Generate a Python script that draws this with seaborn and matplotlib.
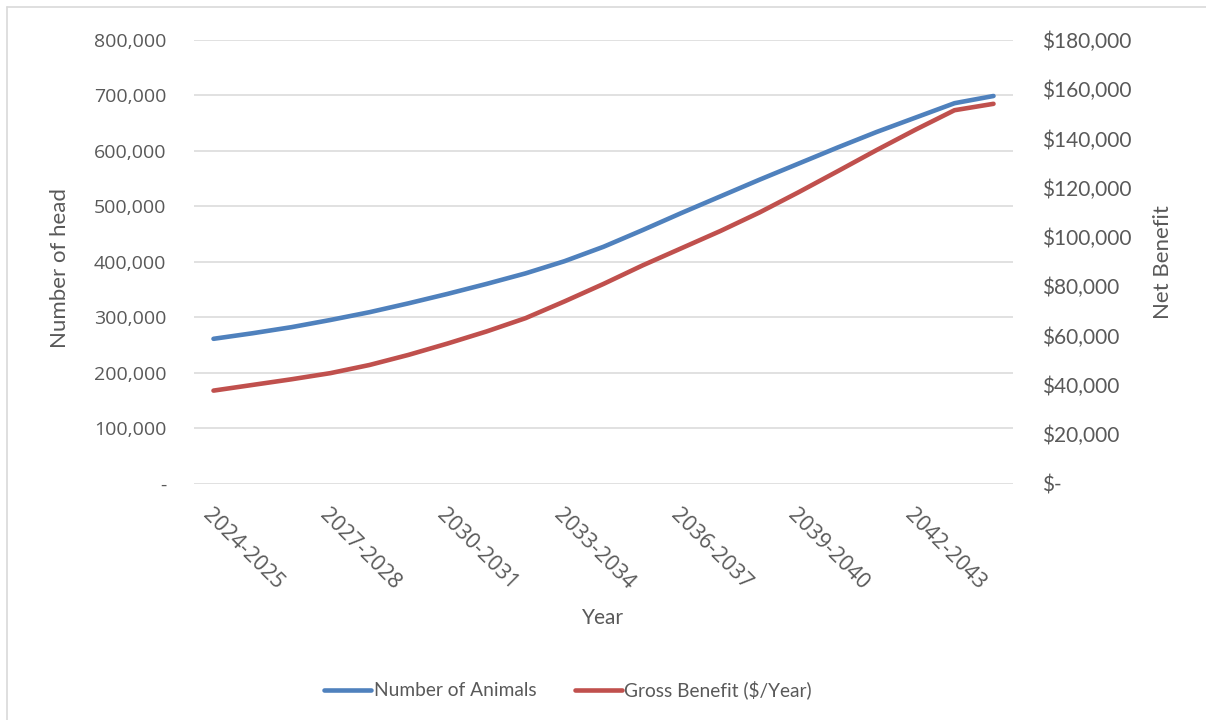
import matplotlib
matplotlib.use("Agg")
import matplotlib.pyplot as plt
from matplotlib.lines import Line2D
from matplotlib.ticker import FuncFormatter, MultipleLocator
import numpy as np
import pandas as pd
import seaborn as sns

# Financial years covered by the projection
years = [f"{y}-{y + 1}" for y in range(2024, 2045)]

# Projected herd size (head)
animals = [261000, 271000, 282000, 295000, 309000, 325000, 342000, 360000,
           379000, 401000, 427000, 457000, 488000, 518000, 548000, 577000,
           606000, 634000, 660000, 686000, 699000]

# Gross benefit ($ per year)
benefit = [37700, 40000, 42300, 44800, 48100, 52200, 56800, 61700,
           67100, 73900, 81000, 88500, 95500, 102500, 110000, 118200,
           126700, 135300, 143600, 151500, 154100]

df = pd.DataFrame({"idx": np.arange(len(years)), "Year": years,
                   "animals": animals, "benefit": benefit})

sns.set_theme(style="white")
plt.rcParams["font.family"] = ["Lato", "DejaVu Sans"]

BLUE = "#4F81BD"
RED = "#C0504D"
GREY_TXT = "#595959"
GRID = "#D9D9D9"

W, H = 1206, 720
fig = plt.figure(figsize=(W / 100, H / 100), dpi=100)
left, right, top, bottom = 194, 1013, 40, 483.5
ax = fig.add_axes([left / W, 1 - bottom / H, (right - left) / W, (bottom - top) / H])
ax2 = ax.twinx()

sns.lineplot(data=df, x="idx", y="animals", ax=ax, color=BLUE, lw=3.3,
             solid_capstyle="round", legend=False)
sns.lineplot(data=df, x="idx", y="benefit", ax=ax2, color=RED, lw=3.3,
             solid_capstyle="round", legend=False)

ax.set_xlim(-0.5, len(years) - 0.5)
ax.set_ylim(0, 800000)
ax2.set_ylim(0, 180000)
ax.yaxis.set_major_locator(MultipleLocator(100000))
ax2.yaxis.set_major_locator(MultipleLocator(20000))

ax.yaxis.set_major_formatter(FuncFormatter(lambda v, p: "-" if v == 0 else f"{v:,.0f}"))
ax2.yaxis.set_major_formatter(FuncFormatter(lambda v, p: "$-" if v == 0 else f"${v:,.0f}"))

ax.grid(axis="y", color=GRID, lw=1.1)
ax.set_axisbelow(True)
ax2.grid(False)
for a in (ax, ax2):
    for s in a.spines.values():
        s.set_visible(False)

tick_idx = list(range(0, len(years), 3))
ax.set_xticks(tick_idx)
ax.set_xticklabels([years[i] for i in tick_idx], rotation=-45, ha="left",
                   va="top", rotation_mode="anchor")
ax.tick_params(axis="x", length=0, pad=15, labelsize=15.5, labelcolor=GREY_TXT,
               labelfontfamily="Open Sans")
ax.tick_params(axis="y", length=0, pad=20, labelsize=14, labelcolor=GREY_TXT,
               labelfontfamily="Open Sans")
ax2.tick_params(axis="y", length=0, pad=21, labelsize=15, labelcolor=GREY_TXT)

narrow = ["Liberation Sans Narrow", "Lato", "DejaVu Sans"]
ax.set_xlabel("")
ax.set_ylabel("")
ax2.set_ylabel("")
fig.text(603 / W, 1 - 618 / H, "Year", ha="center", va="center",
         fontsize=15, color=GREY_TXT)
fig.text(60 / W, 1 - 268 / H, "Number of head", ha="center", va="center",
         rotation=90, fontsize=16, color=GREY_TXT, family=narrow)
fig.text(1163 / W, 1 - 262 / H, "Net Benefit", ha="center", va="center",
         rotation=90, fontsize=16, color=GREY_TXT, family=narrow)

handles = [Line2D([], [], color=BLUE, lw=3.3, solid_capstyle="round"),
           Line2D([], [], color=RED, lw=3.3, solid_capstyle="round")]
leg = fig.legend(handles, ["Number of Animals", "Gross Benefit ($/Year)"],
                 loc="center", bbox_to_anchor=(568 / W, 1 - 690 / H), ncol=2,
                 frameon=False, fontsize=13.8, handlelength=2.45, handletextpad=0.15,
                 columnspacing=2.0)
for t in leg.get_texts():
    t.set_color(GREY_TXT)

# Chart-area frame (left and top edges)
fig.add_artist(Line2D([7 / W, 7 / W], [0, 1 - 7 / H], transform=fig.transFigure,
                      color="#D9D9D9", lw=1.2))
fig.add_artist(Line2D([7 / W, 1], [1 - 7 / H, 1 - 7 / H], transform=fig.transFigure,
                      color="#D9D9D9", lw=1.2))

fig.savefig("out.png", dpi=100, facecolor="white")
